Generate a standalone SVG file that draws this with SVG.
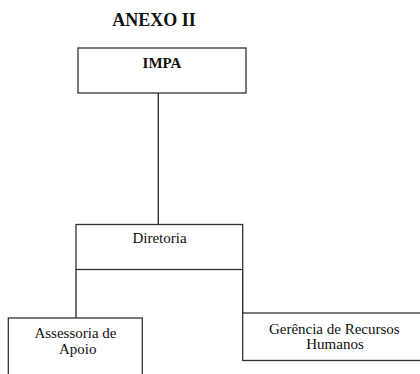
<svg xmlns="http://www.w3.org/2000/svg" width="420" height="374" viewBox="0 0 420 374">
<style>
.box{fill:#fff;stroke:#333;stroke-width:1.3}
.ln{stroke:#222;stroke-width:1.3;fill:none}
text{font-family:'Liberation Serif','Times New Roman','DejaVu Serif',serif;font-size:15px;fill:#111;text-anchor:middle}
.b{font-weight:bold}
.h{font-size:18px}
</style>
<rect width="420" height="374" fill="#fff"/>
<text class="b h" x="154" y="26">ANEXO II</text>
<g id="connectors">
<line class="ln" x1="158.3" y1="93" x2="158.3" y2="224.5"/>
<line class="ln" x1="76" y1="269.5" x2="76" y2="318"/>
<line class="ln" x1="242.7" y1="269.5" x2="242.7" y2="313"/>
</g>
<g id="impa">
<rect class="box" x="78" y="48" width="168" height="45"/>
<text class="b" x="162" y="68">IMPA</text>
</g>
<g id="diretoria">
<rect class="box" x="76" y="224.5" width="166.7" height="45"/>
<text x="159.5" y="243.3">Diretoria</text>
</g>
<g id="assessoria">
<rect class="box" x="8.3" y="318" width="134" height="60"/>
<text x="75.5" y="338.3">Assessoria de</text>
<text x="77.7" y="354">Apoio</text>
</g>
<g id="gerencia">
<rect class="box" x="242.7" y="313" width="180" height="47.5"/>
<text x="334.3" y="333.7">Gerência de Recursos</text>
<text x="335" y="349">Humanos</text>
</g>
</svg>
